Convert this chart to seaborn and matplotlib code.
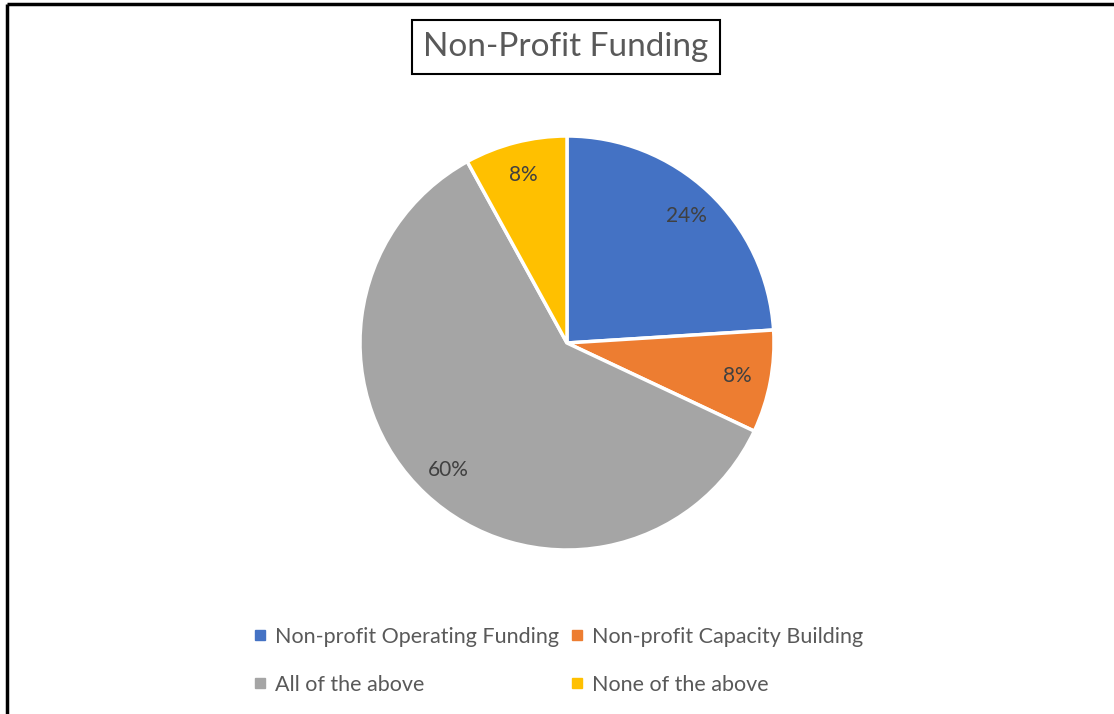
import seaborn as sns
import matplotlib.pyplot as plt
from matplotlib.lines import Line2D

# data
categories = ['Non-profit Operating Funding', 'Non-profit Capacity Building',
              'All of the above', 'None of the above']
shares = [24, 8, 60, 8]
colors = ['#4472C4', '#ED7D31', '#A5A5A5', '#FFC000']
title = 'Non-Profit Funding'

sns.set_theme(style='white')
plt.rcParams['font.family'] = ['Lato', 'DejaVu Sans']
text_color = '#595959'

fig = plt.figure(figsize=(11.14, 7.14), dpi=100)
ax = fig.add_axes([0, 0, 1, 1])
ax.set_xlim(0, 1114)
ax.set_ylim(714, 0)
ax.axis('off')

# pie axes: center (567, 343), radius ~207 px
r = 207
cx, cy = 567, 343
pax = fig.add_axes([(cx - r) / 1114, 1 - (cy + r) / 714, 2 * r / 1114, 2 * r / 714])
wedges, texts, autotexts = pax.pie(shares, colors=sns.color_palette(colors), startangle=90,
                                   counterclock=False, autopct=lambda p: f'{p:.0f}%',
                                   pctdistance=0.84,
                                   wedgeprops={'edgecolor': 'white', 'linewidth': 2.5},
                                   textprops={'fontsize': 15, 'color': '#404040'})
pax.set_aspect('auto')
pax.set_xlim(-1, 1)
pax.set_ylim(-1, 1)

# frame lines (left and top)
ax.plot([7, 7], [4, 714], color='black', lw=2.5, solid_capstyle='butt')
ax.plot([7, 1114], [4, 4], color='black', lw=2.5, solid_capstyle='butt')

# boxed title
ax.text(566, 47, title, ha='center', va='center', fontsize=24, color=text_color,
        bbox=dict(boxstyle='square,pad=0.35', facecolor='white', edgecolor='black', linewidth=1.5))

# legend, filled row by row
order = [0, 2, 1, 3]
handles = [Line2D([0], [0], marker='s', linestyle='none', markersize=7,
                  markerfacecolor=colors[i], markeredgecolor=colors[i]) for i in order]
leg = fig.legend(handles, [categories[i] for i in order], loc='center',
                 bbox_to_anchor=(0.5, 1 - 661 / 714),
                 ncol=2, frameon=False, fontsize=15.5, handletextpad=0.3,
                 columnspacing=0.45, labelspacing=1.3, handlelength=0.8)
for t in leg.get_texts():
    t.set_color(text_color)

fig.savefig('out.png', dpi=100)
